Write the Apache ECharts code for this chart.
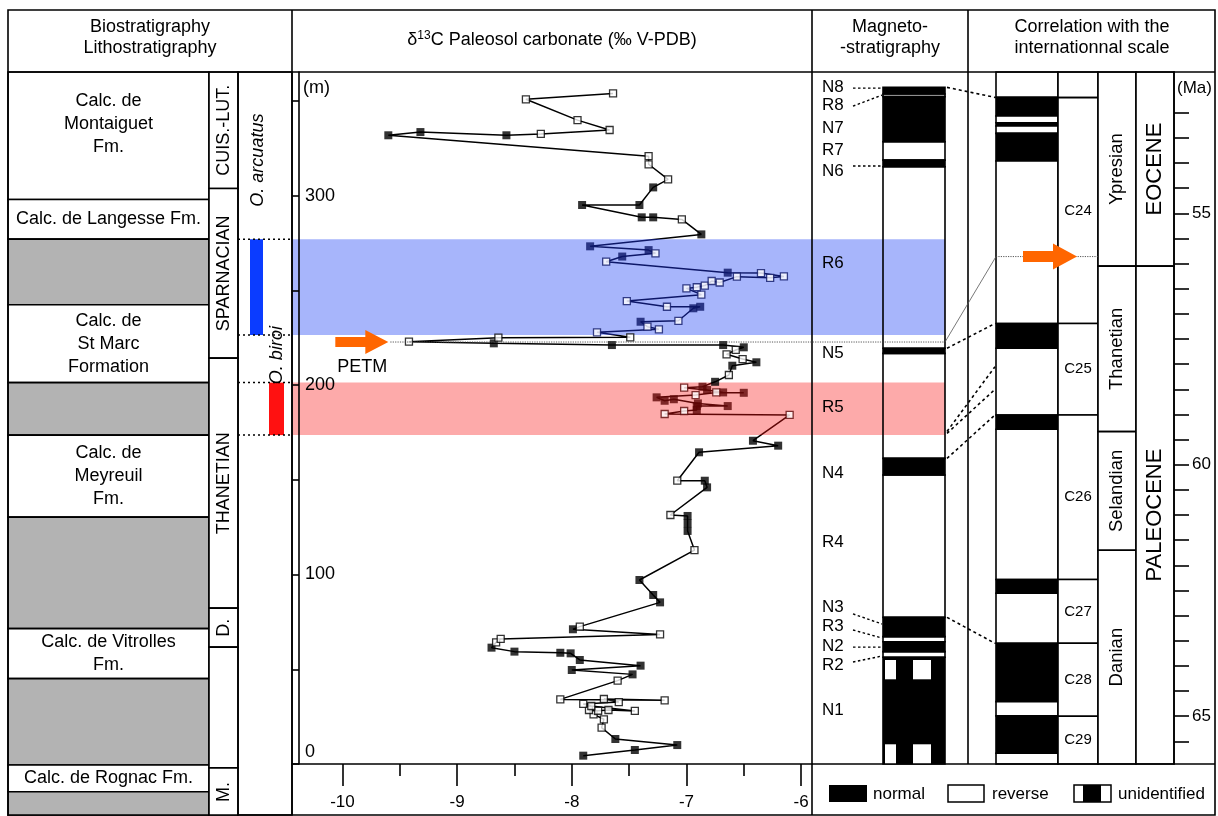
<!DOCTYPE html>
<html>
<head>
<meta charset="utf-8">
<title>δ13C Paleosol carbonate</title>
<script src="https://cdn.jsdelivr.net/npm/echarts@6.0.0/dist/echarts.min.js"></script>
<style>
html,body{margin:0;padding:0;background:#fff;}
#chart{width:1218px;height:816px;}
</style>
</head>
<body>
<div id="chart"></div>
<script>
// ===== δ13C record (sampling order, from the base upward) =====
const d13C = [-7.90,-7.45,-7.08,-7.62,-7.74,-7.72,-7.81,-7.85,-7.77,-7.68,-7.45,-7.83,-7.90,-7.59,-7.72,-7.19,-8.10,-7.60,-7.47,-8.00,
  -7.40,-7.93,-8.01,-8.10,-8.50,-8.70,-8.66,-8.62,-7.23,-7.99,-7.93,-7.23,-7.29,-7.41,-6.93,-6.99,-6.99,-6.99,-7.14,-6.82,
  -6.84,-7.08,-6.89,-6.20,-6.42,-6.10,-7.19,-7.02,-6.91,-6.91,-6.64,-6.90,-7.11,-7.19,-7.26,-6.92,-6.74,-6.50,-6.68,-6.82,
  -7.02,-6.86,-6.75,-6.63,-6.60,-6.39,-6.51,-6.65,-6.57,-6.50,-6.68,-7.65,-8.68,-9.42,-8.64,-7.49,-7.78,-7.24,-7.34,-7.40,
  -7.07,-6.94,-6.88,-7.17,-7.52,-6.87,-7.00,-6.91,-6.84,-6.78,-6.71,-6.56,-6.27,-6.15,-6.35,-6.64,-7.70,-7.56,-7.27,-7.33,
  -7.84,-6.87,-7.04,-7.29,-7.39,-7.91,-7.41,-7.29,-7.16,-7.33,-7.33,-9.60,-9.32,-8.57,-8.27,-7.67,-7.95,-8.40,-7.64];
const depthM = [4.4,7.4,10.0,13.2,19.2,23.6,26.2,28.5,28.1,28.5,28.0,30.6,31.7,32.7,34.3,33.6,34.1,44.0,47.3,49.6,
  51.9,54.9,58.4,58.7,59.3,61.4,64.2,66.0,68.4,71.1,72.5,85.3,89.2,97.1,112.9,123.0,127.0,130.9,131.4,146.0,
  149.5,149.5,164.5,168.0,170.6,184.2,184.7,186.3,186.8,188.9,188.9,190.3,192.5,191.7,193.5,194.7,196.1,195.9,196.1,197.4,
  198.6,199.1,201.7,205.3,210.2,212.0,213.7,216.2,218.5,219.9,221.1,221.1,222.0,222.9,225.0,225.2,227.8,229.4,230.8,233.4,
  233.9,240.5,241.3,241.3,244.3,247.7,251.0,251.6,252.5,254.9,254.1,257.2,256.6,257.3,259.1,259.3,265.1,267.8,269.5,271.2,
  273.2,279.5,287.4,288.5,288.5,295.0,295.0,304.3,308.5,316.5,320.8,331.8,333.5,331.8,332.5,334.6,339.8,350.8,353.9];
const markerType = ['F','F','F','F','O','O','O','O','O','O','O','O','O','O','O','O','O','O','F','F',
  'F','F','F','F','F','F','O','O','O','F','O','F','F','F','O','F','F','F','O','F',
  'F','O','F','F','F','O','O','O','F','F','F','F','F','F','F','O','O','F','F','F',
  'O','F','F','O','F','F','O','O','O','F','F','F','F','O','O','O','O','O','O','F',
  'O','F','F','O','O','O','O','O','O','O','O','O','O','O','O','F','O','F','O','F',
  'F','F','O','F','F','F','F','F','O','O','O','F','F','F','O','O','O','O','O'];

// ===== Lithostratigraphy (m) =====
const lithoNames = ['Calc. de\nMontaiguet\nFm.','Calc. de Langesse Fm.','','Calc. de\nSt Marc\nFormation','',
  'Calc. de\nMeyreuil\nFm.','','Calc. de Vitrolles\nFm.','','Calc. de Rognac Fm.',''];
const lithoTop  = [365.2,297.9,277.0,242.4,201.3,173.6,130.3,71.5,45.1,-0.5,-14.6];
const lithoBase = [297.9,277.0,242.4,201.3,173.6,130.3,71.5,45.1,-0.5,-14.6,-27.4];

// ===== Stages (m) =====
const stageNames = ['CUIS.-LUT.','SPARNACIAN','THANETIAN','D.','','M.'];
const stageTop  = [365.2,303.7,214.2,82.3,61.7,-2.0];
const stageBase = [303.7,214.2,82.3,61.7,-2.0,-27.4];

// ===== Biozones / highlighted intervals (m) =====
const biozoneNames = ['O. arcuatus','O. biroi'];
const biozoneMid = [318.7,215.8];
const blueBand = [226.4,277.0];
const redBand = [173.6,201.3];

// ===== Magnetostratigraphy (m) =====
const magTop  = [357.1,353.6,352.2,328.4,318.7,315.2,219.4,216.7,161.3,152.5,77.4,67.2,64.5,59.3,56.3];
const magBase = [353.6,352.2,328.4,318.7,315.2,219.4,216.7,161.3,152.5,77.4,67.2,64.5,59.3,56.3,0];
const magPolarity = ['N','R','N','R','N','R','N','R','N','R','N','R','N','R','N'];
const unidentTop = [54.9,10.4];
const unidentBase = [44.7,0];
const magLabels = ['N8','R8','N7','R7','N6','R6','N5','R5','N4','R4','N3','R3','N2','R2','N1'];
const magLabelDepth = [357.3,347.8,335.6,324.0,312.7,264.4,216.9,188.4,153.6,117.2,82.8,72.8,62.2,52.2,28.5];
const leaderFrom = [356.7,347.2,315.6,79.2,70.7,61.7,53.8];
const leaderTo   = [356.7,353.0,315.6,73.9,66.5,61.7,57.0];

// ===== International scale (Ma) =====
const gptsTop = [52.19,52.695,53.066,53.199,53.265,53.41,53.96,57.19,57.684,59.01,59.294,62.28,62.555,63.55,64.71,64.994,65.736];
const gptsPolarity = ['R','N','R','N','R','N','R','N','R','N','R','N','R','N','R','N','R'];
const chronNames = ['','C24','C25','C26','C27','C28','C29'];
const chronTop = [52.19,52.70,57.19,59.01,62.28,63.55,65.0];
const ageStages = ['Ypresian','Thanetian','Selandian','Danian'];
const ageStageTop = [52.19,56.05,59.34,61.70];
const epochNames = ['EOCENE','PALEOCENE'];
const epochTop = [52.19,56.05];
const ageBottom = 65.95;
const maTicks = [53,53.5,54,54.5,55,55.5,56,56.5,57,57.5,58,58.5,59,59.5,60,60.5,61,61.5,62,62.5,63,63.5,64,64.5,65,65.5];
const maLabels = [55,60,65];

// ===== Correlation links (depth m -> age Ma) =====
const corrDepth = [357.1,219.4,175.5,174.5,161.3,77.4];
const corrAge   = [52.695,57.19,58.05,58.5,59.01,63.55];
const petmDepth = 222.7;
const petmAge = 55.86;

// ===== axis tick values =====
const xMajor = [-10,-9,-8,-7,-6];
const xMinor = [-9.5,-8.5,-7.5,-6.5];
const yTicks = [0,50,100,150,200,250,300,350];
const yLabels = [0,100,200,300];

// ---------------------------------------------------------------
const FONT = '"Liberation Sans", Arial, Helvetica, sans-serif';
const NAVY = '#0d1768', DARKRED = '#5e0606';
const BLUE_BAND = '#a7b5fb', RED_BAND = '#fdaaaa';
const ORANGE = '#ff6600';
const f = (size, style) => (style ? style + ' ' : '') + size + 'px ' + FONT;

function zoneColor(m) {
  if (m >= blueBand[0] && m <= blueBand[1]) return NAVY;
  if (m >= redBand[0] && m <= redBand[1]) return DARKRED;
  return '#000';
}
const filledData = [], openData = [];
d13C.forEach((v, i) => {
  const m = depthM[i], c = zoneColor(m);
  if (markerType[i] === 'F') filledData.push({value: [v, m], itemStyle: {color: c}});
  else openData.push({value: [v, m], itemStyle: {color: '#fff', borderColor: c}});
});

function box(api, x0, x1, v0, v1) {
  const a = api.coord([x0, v0]), b = api.coord([x1, v1]);
  return {x: Math.min(a[0], b[0]), y: Math.min(a[1], b[1]), width: Math.abs(b[0] - a[0]), height: Math.abs(b[1] - a[1])};
}
function tx(x, y, text, font, opt) {
  opt = opt || {};
  return {type: 'text', x: x, y: y, rotation: opt.rot || 0, z2: 10,
    style: {text: text, font: font, fill: opt.fill || '#000', align: opt.align || 'center', textAlign: opt.align || 'center',
      verticalAlign: 'middle', textVerticalAlign: 'middle', lineHeight: opt.lh}};
}
const LW = 1.6;

const option = {
  animation: false,
  grid: [
    {left: 292, top: 72, width: 520, height: 692},
    {left: 8, top: 72, width: 284, height: 744},
    {left: 812, top: 72, width: 156, height: 692},
    {left: 968, top: 72, width: 206, height: 692},
    {left: 1174, top: 72, width: 41, height: 692}
  ],
  xAxis: [
    {gridIndex: 0, type: 'value', min: -10.44, max: -5.905, position: 'bottom', z: 10,
      axisLine: {show: true, lineStyle: {color: '#000', width: LW}},
      axisTick: {show: true, length: 22, customValues: xMajor, lineStyle: {color: '#000', width: LW}},
      axisLabel: {customValues: xMajor, margin: 30, fontSize: 17, color: '#000', fontFamily: FONT},
      splitLine: {show: false}},
    {gridIndex: 0, type: 'value', min: -10.44, max: -5.905, position: 'bottom', z: 10,
      axisLine: {show: false},
      axisTick: {show: true, length: 12, customValues: xMinor, lineStyle: {color: '#000', width: LW}},
      axisLabel: {show: false}, splitLine: {show: false}},
    {gridIndex: 1, type: 'value', min: 0, max: 284, show: false},
    {gridIndex: 2, type: 'value', min: 0, max: 156, show: false},
    {gridIndex: 3, type: 'value', min: 0, max: 206, show: false},
    {gridIndex: 4, type: 'value', min: 0, max: 1, show: false}
  ],
  yAxis: [
    {gridIndex: 0, type: 'value', min: 0, max: 365.2, offset: -7, z: 10,
      axisLine: {show: true, lineStyle: {color: '#000', width: LW}},
      axisTick: {show: true, length: 7, customValues: yTicks, lineStyle: {color: '#000', width: LW}},
      axisLabel: {inside: true, margin: 6, customValues: yLabels, fontSize: 18, color: '#000', fontFamily: FONT,
        formatter: v => v === 0 ? '{z|0}' : String(v),
        rich: {z: {fontSize: 18, fontFamily: FONT, color: '#000', padding: [0, 0, 24, 0]}}},
      splitLine: {show: false}},
    {gridIndex: 1, type: 'value', min: -27.4, max: 365.2, show: false},
    {gridIndex: 2, type: 'value', min: 0, max: 365.2, show: false},
    {gridIndex: 3, type: 'value', min: 52.19, max: ageBottom, inverse: true, show: false},
    {gridIndex: 4, type: 'value', min: 52.19, max: ageBottom, inverse: true, position: 'left', z: 10,
      axisLine: {show: true, lineStyle: {color: '#000', width: LW}},
      axisTick: {show: true, inside: true, length: 15, customValues: maTicks, lineStyle: {color: '#000', width: LW}},
      axisLabel: {inside: true, customValues: maLabels, margin: 18, fontSize: 17, color: '#000', fontFamily: FONT},
      splitLine: {show: false}}
  ],
  visualMap: {type: 'piecewise', show: false, seriesIndex: 1, dimension: 1,
    pieces: [{gte: blueBand[0], lte: blueBand[1], color: NAVY}, {gte: redBand[0], lte: redBand[1], color: DARKRED}],
    outOfRange: {color: '#000'}},
  series: [
    // 0: coloured intervals in the isotope panel
    {type: 'scatter', xAxisIndex: 0, yAxisIndex: 0, data: [], z: 1, silent: true,
      markArea: {silent: true, data: [
        [{yAxis: blueBand[0], itemStyle: {color: BLUE_BAND}}, {yAxis: blueBand[1]}],
        [{yAxis: redBand[0], itemStyle: {color: RED_BAND}}, {yAxis: redBand[1]}]]}},
    // 1: δ13C line
    {type: 'line', xAxisIndex: 0, yAxisIndex: 0, data: d13C.map((v, i) => [v, depthM[i]]),
      symbol: 'none', lineStyle: {width: 1.5}, z: 3, silent: true},
    // 2: filled samples
    {type: 'scatter', xAxisIndex: 0, yAxisIndex: 0, data: filledData, symbol: 'rect', symbolSize: 8, z: 4, silent: true},
    // 3: open samples
    {type: 'scatter', xAxisIndex: 0, yAxisIndex: 0, data: openData, symbol: 'rect', symbolSize: 7,
      itemStyle: {color: '#fff', borderWidth: 1.3}, z: 5, silent: true},
    // 4: lithology
    {type: 'custom', xAxisIndex: 2, yAxisIndex: 1, silent: true, z: 2,
      data: lithoTop.map((t, i) => [t, lithoBase[i], i]),
      renderItem: (p, api) => {
        const i = api.value(2), s = box(api, 0, 201, api.value(0), api.value(1));
        const ch = [{type: 'rect', shape: s, style: {fill: lithoNames[i] ? '#fff' : '#b3b3b3', stroke: '#000', lineWidth: LW}}];
        const dy = i === 0 ? -12 : 0;
        if (lithoNames[i]) ch.push(tx(s.x + s.width / 2, s.y + s.height / 2 + dy, lithoNames[i], f(18), {lh: 23}));
        return {type: 'group', children: ch};
      }},
    // 5: stages (left)
    {type: 'custom', xAxisIndex: 2, yAxisIndex: 1, silent: true, z: 2,
      data: stageTop.map((t, i) => [t, stageBase[i], i]),
      renderItem: (p, api) => {
        const i = api.value(2), s = box(api, 201, 230, api.value(0), api.value(1));
        const ch = [{type: 'rect', shape: s, style: {fill: '#fff', stroke: '#000', lineWidth: LW}}];
        if (stageNames[i]) ch.push(tx(s.x + s.width / 2 + 1, s.y + s.height / 2, stageNames[i], f(18), {rot: Math.PI / 2}));
        return {type: 'group', children: ch};
      }},
    // 6: biozone bars + limits
    {type: 'custom', xAxisIndex: 2, yAxisIndex: 1, silent: true, z: 3,
      data: [[blueBand[1], blueBand[0], 0], [redBand[1], redBand[0], 1]],
      renderItem: (p, api) => {
        const i = api.value(2);
        const x0 = i === 0 ? 242 : 261, x1 = i === 0 ? 255 : 276;
        const s = box(api, x0, x1, api.value(0), api.value(1));
        const l0 = api.coord([230, api.value(0)]), l1 = api.coord([284, api.value(0)]);
        const m0 = api.coord([230, api.value(1)]);
        const dash = {stroke: '#000', lineWidth: 1.5, lineDash: [2, 3]};
        return {type: 'group', children: [
          {type: 'rect', shape: s, style: {fill: i === 0 ? '#0b3cff' : '#ff1111'}},
          {type: 'line', shape: {x1: l0[0], y1: l0[1], x2: l1[0], y2: l1[1]}, style: dash},
          {type: 'line', shape: {x1: m0[0], y1: m0[1], x2: l1[0], y2: m0[1]}, style: dash}]};
      }},
    // 7: biozone names
    {type: 'custom', xAxisIndex: 2, yAxisIndex: 1, silent: true, z: 3,
      data: biozoneMid.map((m, i) => [m, i]),
      renderItem: (p, api) => {
        const i = api.value(1), c = api.coord([i === 0 ? 250 : 269, api.value(0)]);
        return tx(c[0], c[1], biozoneNames[i], f(18, 'italic'), {rot: Math.PI / 2});
      }},
    // 8: coloured intervals in magnetostratigraphy panel
    {type: 'scatter', xAxisIndex: 3, yAxisIndex: 2, data: [], z: 1, silent: true,
      markArea: {silent: true, data: [
        [{xAxis: 0, yAxis: blueBand[0], itemStyle: {color: BLUE_BAND}}, {xAxis: 133, yAxis: blueBand[1]}],
        [{xAxis: 0, yAxis: redBand[0], itemStyle: {color: RED_BAND}}, {xAxis: 133, yAxis: redBand[1]}]]}},
    // 9: magnetozones
    {type: 'custom', xAxisIndex: 3, yAxisIndex: 2, silent: true, z: 3,
      data: magTop.map((t, i) => [t, magBase[i], i]),
      renderItem: (p, api) => {
        const i = api.value(2), s = box(api, 71, 133, api.value(0), api.value(1));
        return {type: 'rect', shape: s, style: {fill: magPolarity[i] === 'N' ? '#000' : 'rgba(0,0,0,0)', stroke: '#000', lineWidth: LW}};
      }},
    // 10: unidentified windows
    {type: 'custom', xAxisIndex: 3, yAxisIndex: 2, silent: true, z: 4,
      data: unidentTop.map((t, i) => [t, unidentBase[i]]),
      renderItem: (p, api) => ({type: 'group', children: [
        {type: 'rect', shape: box(api, 73, 84, api.value(0), api.value(1)), style: {fill: '#fff'}},
        {type: 'rect', shape: box(api, 101, 119, api.value(0), api.value(1)), style: {fill: '#fff'}}]})},
    // 11: magnetozone labels
    {type: 'custom', xAxisIndex: 3, yAxisIndex: 2, silent: true, z: 4,
      data: magLabelDepth.map((m, i) => [m, i]),
      renderItem: (p, api) => {
        const c = api.coord([10, api.value(0)]);
        return tx(c[0], c[1], magLabels[api.value(1)], f(17), {align: 'left'});
      }},
    // 12: GPTS polarity
    {type: 'custom', xAxisIndex: 4, yAxisIndex: 3, silent: true, z: 3,
      data: gptsTop.map((t, i) => [t, i + 1 < gptsTop.length ? gptsTop[i + 1] : ageBottom, i]),
      renderItem: (p, api) => {
        const i = api.value(2), s = box(api, 28, 90, api.value(0), api.value(1));
        return {type: 'rect', shape: s, style: {fill: gptsPolarity[i] === 'N' ? '#000' : '#fff', stroke: '#000', lineWidth: LW}};
      }},
    // 13: chrons
    {type: 'custom', xAxisIndex: 4, yAxisIndex: 3, silent: true, z: 3,
      data: chronTop.map((t, i) => [t, i + 1 < chronTop.length ? chronTop[i + 1] : ageBottom, i]),
      renderItem: (p, api) => {
        const i = api.value(2), s = box(api, 90, 130, api.value(0), api.value(1));
        const ch = [{type: 'rect', shape: s, style: {fill: '#fff', stroke: '#000', lineWidth: LW}}];
        if (chronNames[i]) ch.push(tx(s.x + s.width / 2, s.y + s.height / 2, chronNames[i], f(15)));
        return {type: 'group', children: ch};
      }},
    // 14: stages (international)
    {type: 'custom', xAxisIndex: 4, yAxisIndex: 3, silent: true, z: 3,
      data: ageStageTop.map((t, i) => [t, i + 1 < ageStageTop.length ? ageStageTop[i + 1] : ageBottom, i]),
      renderItem: (p, api) => {
        const i = api.value(2), s = box(api, 130, 168, api.value(0), api.value(1));
        return {type: 'group', children: [
          {type: 'rect', shape: s, style: {fill: '#fff', stroke: '#000', lineWidth: LW}},
          tx(s.x + s.width / 2, s.y + s.height / 2, ageStages[i], f(18.5), {rot: Math.PI / 2})]};
      }},
    // 15: epochs
    {type: 'custom', xAxisIndex: 4, yAxisIndex: 3, silent: true, z: 3,
      data: epochTop.map((t, i) => [t, i + 1 < epochTop.length ? epochTop[i + 1] : ageBottom, i]),
      renderItem: (p, api) => {
        const i = api.value(2), s = box(api, 168, 206, api.value(0), api.value(1));
        return {type: 'group', children: [
          {type: 'rect', shape: s, style: {fill: '#fff', stroke: '#000', lineWidth: LW}},
          tx(s.x + s.width / 2, s.y + s.height / 2, epochNames[i], f(22), {rot: Math.PI / 2})]};
      }},
    // 16: carrier for the age axis grid
    {type: 'scatter', xAxisIndex: 5, yAxisIndex: 4, data: [], silent: true}
  ]
};

const chart = echarts.init(document.getElementById('chart'), null, {renderer: 'canvas'});
chart.setOption(option);

// ---- annotations that follow the axes ----
const P = (gi, x, y) => chart.convertToPixel({gridIndex: gi}, [x, y]);
const L = (a, b, style) => ({type: 'line', z: 50, shape: {x1: a[0], y1: a[1], x2: b[0], y2: b[1]}, style: style});
const DASH = {stroke: '#000', lineWidth: 1.6, lineDash: [3, 3]};
const DOT = {stroke: '#444', lineWidth: 0.9, lineDash: [1.2, 1.2]};
const els = [];

// frames
const FR = {stroke: '#000', lineWidth: LW};
els.push({type: 'rect', z: 60, shape: {x: 8, y: 10, width: 1207, height: 805}, style: {fill: 'none', stroke: '#000', lineWidth: LW}});
els.push(L([8, 72], [1215, 72], FR));
els.push(L([292, 10], [292, 815], FR));
els.push(L([812, 10], [812, 815], FR));
els.push(L([968, 10], [968, 764], FR));
els.push(L([812, 764], [1215, 764], FR));
els.push({type: 'rect', z: 60, shape: {x: 238, y: 72, width: 54, height: 743}, style: {fill: 'none', stroke: '#000', lineWidth: LW}});

// headers
els.push(Object.assign(tx(150, 38, 'Biostratigraphy\nLithostratigraphy', f(18), {lh: 21}), {z: 60}));
els.push({type: 'text', z: 60, x: 552, y: 40, style: {
  text: 'δ{sup|13}C Paleosol carbonate (‰ V-PDB)', font: f(18), fill: '#000', align: 'center', textAlign: 'center',
  verticalAlign: 'middle', textVerticalAlign: 'middle',
  rich: {sup: {fontSize: 12, fontFamily: FONT, fill: '#000', padding: [0, 0, 9, 0]}}}});
els.push(Object.assign(tx(890, 38, 'Magneto-\n-stratigraphy', f(18), {lh: 21}), {z: 60}));
els.push(Object.assign(tx(1092, 38, 'Correlation with the\ninternationnal scale', f(18), {lh: 21}), {z: 60}));
els.push(Object.assign(tx(303, 88, '(m)', f(18), {align: 'left'}), {z: 60}));
els.push(Object.assign(tx(1177, 88, '(Ma)', f(17), {align: 'left'}), {z: 60}));

// magnetozone label leaders
leaderFrom.forEach((m, i) => els.push(L(P(2, 41, m), P(2, 70, leaderTo[i]), {stroke: '#000', lineWidth: 1.4, lineDash: [2.5, 2.5]})));

// correlation links
corrDepth.forEach((m, i) => els.push(L(P(2, 135, m), P(3, 27, corrAge[i]), DASH)));

// PETM level
const tipL = P(0, -9.6, petmDepth);
els.push(L([tipL[0] + 2, tipL[1]], P(2, 133, petmDepth), DOT));
els.push(L(P(2, 133, petmDepth), P(3, 28, petmAge), {stroke: '#555', lineWidth: 0.8}));
els.push(L(P(3, 28, petmAge), P(3, 130, petmAge), DOT));
function arrow(tip, shaft, head, hh, sh) {
  const x = tip[0], y = tip[1];
  return {type: 'polygon', z: 70, shape: {points: [[x - shaft, y - sh], [x - head, y - sh], [x - head, y - hh], [x, y],
    [x - head, y + hh], [x - head, y + sh], [x - shaft, y + sh]]}, style: {fill: ORANGE}};
}
els.push(arrow(tipL, 53, 23, 12, 5));
els.push(Object.assign(tx(tipL[0] - 26, tipL[1] + 25, 'PETM', f(18)), {z: 70}));
els.push(arrow(P(3, 109, petmAge), 54, 24, 13, 5.5));

// legend
els.push({type: 'rect', z: 60, shape: {x: 829, y: 785, width: 38, height: 17}, style: {fill: '#000'}});
els.push(Object.assign(tx(873, 794, 'normal', f(17), {align: 'left'}), {z: 60}));
els.push({type: 'rect', z: 60, shape: {x: 948, y: 785, width: 36, height: 17}, style: {fill: '#fff', stroke: '#000', lineWidth: 1.5}});
els.push(Object.assign(tx(992, 794, 'reverse', f(17), {align: 'left'}), {z: 60}));
els.push({type: 'rect', z: 60, shape: {x: 1074, y: 785, width: 37, height: 17}, style: {fill: '#fff', stroke: '#000', lineWidth: 1.5}});
els.push({type: 'rect', z: 61, shape: {x: 1083, y: 785, width: 18, height: 17}, style: {fill: '#000'}});
els.push(Object.assign(tx(1118, 794, 'unidentified', f(17), {align: 'left'}), {z: 60}));

chart.setOption({graphic: {elements: els}});
</script>
</body>
</html>
